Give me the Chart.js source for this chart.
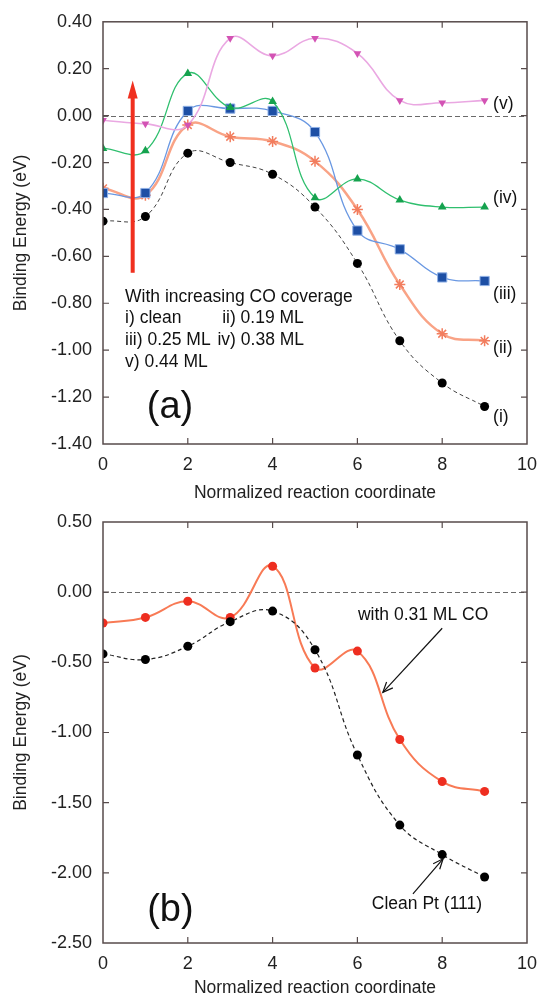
<!DOCTYPE html>
<html><head><meta charset="utf-8">
<script src="https://cdn.jsdelivr.net/npm/chart.js@4.4.1/dist/chart.umd.min.js"></script>
<style>
html,body{margin:0;padding:0;background:#fff;width:537px;height:999px;overflow:hidden}
.wrap{position:absolute;left:0;width:537px;height:500px}
#w1{top:0}
#w2{top:499px}
canvas{display:block}
</style></head><body>
<div class="wrap" id="w1"><canvas id="c1" width="537" height="500"></canvas></div>
<div class="wrap" id="w2"><canvas id="c2" width="537" height="500"></canvas></div>
<script>
// ---------- data ----------
const coord = [0,1,2,3,4,5,6,7,8,9];
// panel (a)
const aClean = [-0.45,-0.43,-0.16,-0.20,-0.25,-0.39,-0.63,-0.96,-1.14,-1.24];
const a019   = [-0.31,-0.34,-0.04,-0.09,-0.11,-0.195,-0.40,-0.72,-0.93,-0.96];
const a025   = [-0.33,-0.33,0.02,0.03,0.02,-0.07,-0.49,-0.57,-0.69,-0.705];
const a038   = [-0.14,-0.15,0.18,0.035,0.06,-0.35,-0.27,-0.36,-0.39,-0.39];
const a044   = [-0.02,-0.035,-0.04,0.33,0.255,0.33,0.265,0.065,0.055,0.065];
// panel (b)
const bClean = [-0.44,-0.48,-0.385,-0.21,-0.135,-0.41,-1.16,-1.66,-1.87,-2.03];
const bCO    = [-0.22,-0.18,-0.065,-0.18,0.185,-0.54,-0.42,-1.05,-1.35,-1.42];
// ticks
const xTicks  = [0,2,4,6,8,10];
const yTicksA = [0.4,0.2,0,-0.2,-0.4,-0.6,-0.8,-1.0,-1.2,-1.4];
const yTicksB = [0.5,0,-0.5,-1.0,-1.5,-2.0,-2.5];
// text
const xTitle = 'Normalized reaction coordinate';
const yTitle = 'Binding Energy (eV)';
const seriesTagsA = ['(i)','(ii)','(iii)','(iv)','(v)'];

const FONT = '"Liberation Sans", Arial, Helvetica, sans-serif';
Chart.defaults.font.family = FONT;
Chart.defaults.color = '#222';

const pts = arr => coord.map((x,i)=>({x, y: arr[i]}));
const fmt = v => (Math.abs(v) < 1e-9 ? 0 : v).toFixed(2);
const AXIS = '#574b4b';

const decor = {
  id: 'decor',
  beforeDatasetsDraw(chart, args, o) {
    const {ctx, chartArea: a, scales: {x, y}} = chart;
    ctx.save();
    ctx.strokeStyle = '#6a6a6a';
    ctx.lineWidth = 1;
    ctx.setLineDash([5,3]);
    const y0 = Math.round(y.getPixelForValue(0)) + 0.5;
    ctx.beginPath(); ctx.moveTo(a.left, y0); ctx.lineTo(a.right, y0); ctx.stroke();
    ctx.restore();
  },
  afterDatasetsDraw(chart, args, o) {
    const {ctx, chartArea: a, scales: {x, y}} = chart;
    ctx.save();
    // frame
    ctx.strokeStyle = AXIS; ctx.lineWidth = 1.5;
    ctx.strokeRect(a.left, a.top, a.right - a.left, a.bottom - a.top);
    ctx.lineWidth = 1.2;
    ctx.beginPath();
    y.ticks.forEach(t => {
      if (t.value <= y.min || t.value >= y.max) return;
      const py = y.getPixelForValue(t.value);
      ctx.moveTo(a.left + 6, py); ctx.lineTo(a.left, py);
      ctx.moveTo(a.right - 6, py); ctx.lineTo(a.right, py);
    });
    x.ticks.forEach(t => {
      if (t.value <= x.min || t.value >= x.max) return;
      const px = x.getPixelForValue(t.value);
      ctx.moveTo(px, a.top); ctx.lineTo(px, a.top + 6);
      ctx.moveTo(px, a.bottom); ctx.lineTo(px, a.bottom - 6);
    });
    ctx.stroke();
    // texts
    (o.texts || []).forEach(t => {
      ctx.font = (t.size || 17.5) + 'px ' + FONT;
      ctx.fillStyle = '#111';
      ctx.textAlign = t.align || 'left';
      ctx.textBaseline = 'middle';
      ctx.fillText(t.text, x.getPixelForValue(t.x), y.getPixelForValue(t.y));
    });
    // thin arrows
    (o.arrows || []).forEach(ar => {
      const x1 = x.getPixelForValue(ar.x1), y1 = y.getPixelForValue(ar.y1);
      const x2 = x.getPixelForValue(ar.x2), y2 = y.getPixelForValue(ar.y2);
      ctx.strokeStyle = '#111'; ctx.lineWidth = 1.2; ctx.setLineDash([]);
      ctx.beginPath(); ctx.moveTo(x1, y1); ctx.lineTo(x2, y2); ctx.stroke();
      const ang = Math.atan2(y2 - y1, x2 - x1), L = 11, s = 0.4;
      ctx.beginPath();
      ctx.moveTo(x2 - L*Math.cos(ang - s), y2 - L*Math.sin(ang - s));
      ctx.lineTo(x2, y2);
      ctx.lineTo(x2 - L*Math.cos(ang + s), y2 - L*Math.sin(ang + s));
      ctx.stroke();
    });
    // bold red arrow
    if (o.redArrow) {
      const r = o.redArrow;
      const px = x.getPixelForValue(r.x);
      const yb = y.getPixelForValue(r.y1), yt = y.getPixelForValue(r.y2);
      ctx.fillStyle = '#f0301f';
      ctx.fillRect(px - 2, yt + 14, 4, yb - yt - 14);
      ctx.beginPath();
      ctx.moveTo(px, yt); ctx.lineTo(px - 5, yt + 18); ctx.lineTo(px + 5, yt + 18);
      ctx.closePath(); ctx.fill();
    }
    ctx.restore();
  }
};

function baseOptions(yTicks, ymin, ymax, padTop, xTitleLH, xTitlePadB, decorOpts) {
  return {
    responsive: false, animation: false, events: [],
    layout: {padding: {top: padTop, right: 0, left: 0, bottom: 0}},
    elements: {line: {tension: 0.42}},
    plugins: {legend: {display: false}, tooltip: {enabled: false}, decor: decorOpts},
    scales: {
      x: {
        type: 'linear', min: 0, max: 10,
        afterBuildTicks: s => { s.ticks = xTicks.map(v => ({value: v})); },
        afterFit: s => { s.height = 56; s.paddingRight = 10; },
        grid: {display: false, drawTicks: false},
        border: {display: false},
        ticks: {padding: 10, font: {size: 18}, color: '#222', callback: v => String(v), maxRotation: 0},
        title: {display: true, text: xTitle, font: {size: 17.5, lineHeight: xTitleLH}, color: '#222', padding: {top: 0, bottom: xTitlePadB}}
      },
      y: {
        min: ymin, max: ymax,
        afterBuildTicks: s => { s.ticks = yTicks.map(v => ({value: v})); },
        afterFit: s => { s.width = 103; },
        grid: {display: false, drawTicks: false},
        border: {display: false},
        ticks: {padding: 11, font: {size: 18}, color: '#222', callback: v => fmt(v)},
        title: {display: true, text: yTitle, font: {size: 17.5, lineHeight: 1.2}, color: '#222', padding: {top: 11, bottom: 0}}
      }
    }
  };
}

// ---------- chart (a) ----------
new Chart(document.getElementById('c1'), {
  type: 'line',
  plugins: [decor],
  data: {datasets: [
    {data: pts(aClean), order: 4, borderColor: '#444', borderWidth: 1, borderDash: [4,3],
     pointStyle: 'circle', pointRadius: 4.5, pointBackgroundColor: '#000', pointBorderColor: '#000', pointBorderWidth: 0},
    {data: pts(a019), order: 3, borderColor: '#f9a386', borderWidth: 2.5,
     pointStyle: 'star', pointRadius: 5.5, pointBorderColor: '#f27d5e', pointBackgroundColor: '#f27d5e', pointBorderWidth: 1.5},
    {data: pts(a025), order: 2, borderColor: '#6a98e2', borderWidth: 1.3,
     pointStyle: 'rect', pointRadius: 6.5, pointBackgroundColor: '#1d4fa5', pointBorderColor: '#8fb0e6', pointBorderWidth: 1},
    {data: pts(a038), order: 1, borderColor: '#2fbf6e', borderWidth: 1.3,
     pointStyle: 'triangle', pointRadius: 5, pointBackgroundColor: '#15a24e', pointBorderColor: '#15a24e', pointBorderWidth: 0},
    {data: pts(a044), order: 0, borderColor: '#eaa8e2', borderWidth: 1.6,
     pointStyle: 'triangle', pointRotation: 180, pointRadius: 4.5, pointBackgroundColor: '#d353b4', pointBorderColor: '#d353b4', pointBorderWidth: 0}
  ]},
  options: baseOptions(yTicksA, -1.4, 0.4, 21, 0.8, 0, {
    texts: [
      {text: seriesTagsA[4], x: 9.2, y: 0.05},
      {text: seriesTagsA[3], x: 9.2, y: -0.35},
      {text: seriesTagsA[2], x: 9.2, y: -0.76},
      {text: seriesTagsA[1], x: 9.2, y: -0.99},
      {text: seriesTagsA[0], x: 9.2, y: -1.285},
      {text: 'With increasing CO coverage', x: 0.52, y: -0.774},
      {text: 'i) clean', x: 0.52, y: -0.864},
      {text: 'ii) 0.19 ML', x: 2.81, y: -0.864},
      {text: 'iii) 0.25 ML', x: 0.52, y: -0.957},
      {text: 'iv) 0.38 ML', x: 2.7, y: -0.957},
      {text: 'v) 0.44 ML', x: 0.52, y: -1.051},
      {text: '(a)', x: 1.58, y: -1.243, size: 38, align: 'center'}
    ],
    redArrow: {x: 0.7, y1: -0.67, y2: 0.15}
  })
});

// ---------- chart (b) ----------
new Chart(document.getElementById('c2'), {
  type: 'line',
  plugins: [decor],
  data: {datasets: [
    {data: pts(bClean), order: 0, borderColor: '#222', borderWidth: 1.2, borderDash: [4,3],
     pointStyle: 'circle', pointRadius: 4.5, pointBackgroundColor: '#000', pointBorderColor: '#000', pointBorderWidth: 0},
    {data: pts(bCO), order: 1, borderColor: '#f87a55', borderWidth: 2,
     pointStyle: 'circle', pointRadius: 4.5, pointBackgroundColor: '#ee2e20', pointBorderColor: '#ee2e20', pointBorderWidth: 0}
  ]},
  options: baseOptions(yTicksB, -2.5, 0.5, 23, 1.2, 0.5, {
    texts: [
      {text: 'with 0.31 ML CO', x: 7.55, y: -0.164, align: 'center'},
      {text: 'Clean Pt (111)', x: 7.64, y: -2.221, align: 'center'},
      {text: '(b)', x: 1.59, y: -2.27, size: 38, align: 'center'}
    ],
    arrows: [
      {x1: 8.0, y1: -0.257, x2: 6.6, y2: -0.714},
      {x1: 7.31, y1: -2.15, x2: 8.02, y2: -1.9}
    ]
  })
});
</script>
</body></html>
